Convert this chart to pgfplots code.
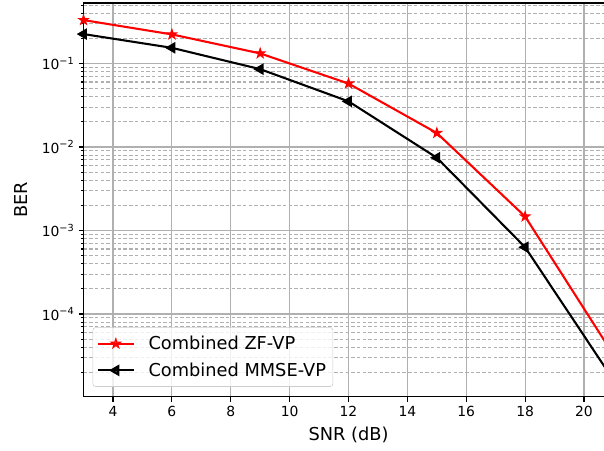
\documentclass[border=0pt]{standalone}
\usepackage{fontspec}
\setmainfont{DejaVu Sans}
\usepackage{pgfplots}
\pgfplotsset{compat=1.18}
\usetikzlibrary{plotmarks}
\definecolor{gridgray}{RGB}{176,176,176}
\definecolor{legedge}{RGB}{204,204,204}
\newcommand{\tenpow}[1]{10\raisebox{0.42em}{\fontsize{7}{8}\selectfont −#1}}
\pgfdeclareplotmark{mstar}{%
  \pgfpathmoveto{\pgfqpointpolar{90}{\pgfplotmarksize}}%
  \pgfpathlineto{\pgfqpointpolar{126}{0.382\pgfplotmarksize}}%
  \pgfpathlineto{\pgfqpointpolar{162}{\pgfplotmarksize}}%
  \pgfpathlineto{\pgfqpointpolar{198}{0.382\pgfplotmarksize}}%
  \pgfpathlineto{\pgfqpointpolar{234}{\pgfplotmarksize}}%
  \pgfpathlineto{\pgfqpointpolar{270}{0.382\pgfplotmarksize}}%
  \pgfpathlineto{\pgfqpointpolar{306}{\pgfplotmarksize}}%
  \pgfpathlineto{\pgfqpointpolar{342}{0.382\pgfplotmarksize}}%
  \pgfpathlineto{\pgfqpointpolar{18}{\pgfplotmarksize}}%
  \pgfpathlineto{\pgfqpointpolar{54}{0.382\pgfplotmarksize}}%
  \pgfpathclose
  \pgfusepathqfillstroke
}
\begin{document}
\begin{tikzpicture}
\begin{axis}[
  scale only axis,
  width=381.5pt, height=283.5pt,
  xmin=3, xmax=21,
  ymode=log, ymin=1.02e-5, ymax=0.53,
  xtick={4,6,8,10,12,14,16,18,20},
  ytick={1e-4,1e-3,1e-2,1e-1},
  yticklabels={\tenpow{4},\tenpow{3},\tenpow{2},\tenpow{1}},
  minor ytick={2e-5,3e-5,4e-5,5e-5,6e-5,7e-5,8e-5,9e-5,
               2e-4,3e-4,4e-4,5e-4,6e-4,7e-4,8e-4,9e-4,
               2e-3,3e-3,4e-3,5e-3,6e-3,7e-3,8e-3,9e-3,
               2e-2,3e-2,4e-2,5e-2,6e-2,7e-2,8e-2,9e-2,
               2e-1,3e-1,4e-1,5e-1},
  /pgf/number format/assume math mode=true,
  tick label style={font=\fontsize{10}{12}\selectfont},
  tick align=outside, tick pos=left,
  major tick length=3.5pt, minor tick length=2pt,
  every tick/.style={black, line width=0.8pt},
  grid=both,
  major grid style={solid, color=gridgray, line width=0.8pt},
  minor grid style={dash pattern=on 2.5pt off 1.6pt, color=gridgray, line width=0.8pt},
  axis line style={line width=0.8pt},
  every axis x label/.style={at={([yshift=-27.6pt]axis description cs:0.5,0)}, anchor=center, font=\fontsize{12.8}{15}\selectfont},
  every axis y label/.style={at={([xshift=-45pt]axis description cs:0,0.5)}, anchor=center, rotate=90, font=\fontsize{12.8}{15}\selectfont},
  xlabel={SNR (dB)},
  ylabel={BER},
  legend cell align=left,
  legend style={at={([xshift=6.5pt,yshift=7.2pt]axis description cs:0,0)}, anchor=south west,
    draw=legedge, fill=white, fill opacity=0.8, text opacity=1, rounded corners=2pt,
    font=\fontsize{12.8}{15}\selectfont, row sep=4pt, inner xsep=3pt, inner ysep=4pt},
  legend image code/.code={%
    \draw[#1, mark=none] (0cm,0cm) -- (0.9cm,0cm);
    \draw[#1, only marks, mark indices={1}] plot coordinates {(0.45cm,0cm)};
    \path (0.9cm+8pt,0cm);},
]
\addplot[red, line width=1.5pt, mark=mstar, mark size=3.5pt, mark options={solid, fill=red, line width=0.8pt}, mark indices={1,2,3,4,5,6}]
  coordinates {(3,0.331) (6,0.223) (9,0.132) (12,0.0575) (15,0.0147) (18,0.00147) (21,3.25e-5)};
\addlegendentry{Combined ZF-VP}
\addplot[black, line width=1.5pt, mark=triangle*, mark size=3.4pt, mark options={solid, fill=black, rotate=90}, mark indices={1,2,3,4,5,6}]
  coordinates {(3,0.225) (6,0.154) (9,0.0855) (12,0.0352) (15,0.00744) (18,0.00063) (21,1.62e-5)};
\addlegendentry{Combined MMSE-VP}
\end{axis}
\pgfresetboundingbox
\useasboundingbox (-60.16pt,-38.4pt) rectangle (374.7pt,285.66pt);
\end{tikzpicture}
\end{document}
